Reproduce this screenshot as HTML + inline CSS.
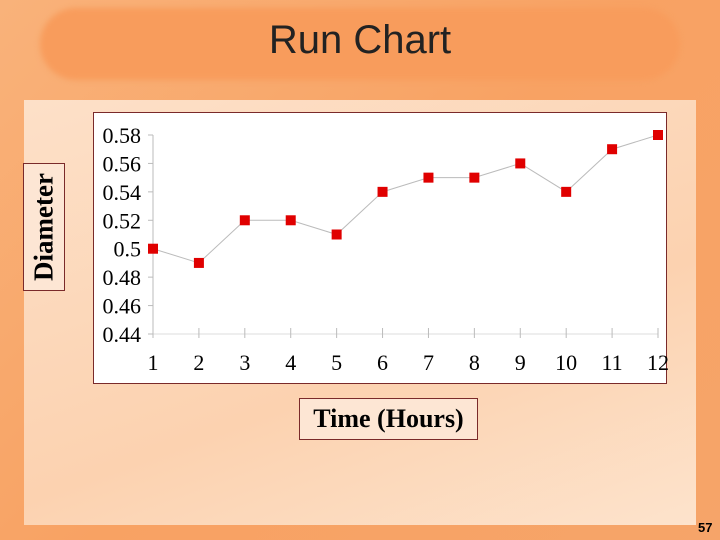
<!DOCTYPE html>
<html><head><style>
body{margin:0;width:720px;height:540px;overflow:hidden;font-family:"Liberation Serif",serif}
#bg{position:absolute;left:0;top:0;width:720px;height:540px;background:linear-gradient(135deg,#f9b27a,#f8a263 50%,#f6a469)}
#panel{position:absolute;left:24px;top:100px;width:672px;height:425px;background:linear-gradient(160deg,#fde0c8,#fcd2b0 60%,#fde3cc)}
#banner{position:absolute;left:40px;top:8px;width:640px;height:72px;border-radius:36px;background:#f89c5c;filter:blur(3px)}
#title{position:absolute;left:0;width:720px;top:18px;text-align:center;font:40px "Liberation Sans",sans-serif;color:#222}
#plot{position:absolute;left:93px;top:112px;width:572px;height:270px;background:#fff;border:1px solid #7a2a2a}
#ylab{position:absolute;left:23px;top:163px;width:40px;height:126px;border:1px solid #7a2a2a;background:#fde6d4}
#ylab span{position:absolute;left:50%;top:50%;transform:translate(-50%,-50%) rotate(-90deg);font-weight:bold;font-size:27px;white-space:nowrap}
#xlab{position:absolute;left:299px;top:398px;width:177px;height:40px;border:1px solid #7a2a2a;background:#fde6d4;text-align:center;line-height:40px;font-weight:bold;font-size:26px}
#pg{position:absolute;left:698px;top:520px;font:bold 13px "Liberation Sans",sans-serif}
svg{position:absolute;left:0;top:0}
</style></head><body>
<div id="bg"></div>
<div id="panel"></div>
<div id="banner"></div>
<div id="title">Run Chart</div>
<div id="plot"></div>
<div id="ylab"><span>Diameter</span></div>
<div id="xlab">Time (Hours)</div>
<div id="pg">57</div>
<svg id="chart" width="720" height="540"></svg>
<script>
const categories=[1,2,3,4,5,6,7,8,9,10,11,12];
const values=[0.50,0.49,0.52,0.52,0.51,0.54,0.55,0.55,0.56,0.54,0.57,0.58];
const yTicks=[0.44,0.46,0.48,0.5,0.52,0.54,0.56,0.58];
const yTickLabels=["0.44","0.46","0.48","0.5","0.52","0.54","0.56","0.58"];
const NS="http://www.w3.org/2000/svg",svg=document.getElementById('chart');
const x=i=>153+(i-1)*(658-153)/11;
const y=v=>334-(v-0.44)*(334-135)/0.14;
function mk(t,a){const e=document.createElementNS(NS,t);for(const k in a)e.setAttribute(k,a[k]);svg.appendChild(e);return e;}
let ax=mk('line',{x1:153,y1:y(0.58),x2:153,y2:334,stroke:'#bbb'});

let bx=mk('line',{x1:153,y1:334,x2:658,y2:334,stroke:'#ddd'});

yTicks.forEach((v,i)=>{
  mk('line',{x1:148,x2:153,y1:y(v),y2:y(v),stroke:'#bbb'});
  const t=mk('text',{x:141,y:y(v)+8,'text-anchor':'end','font-size':22,'font-family':'Liberation Serif, serif'});
  t.textContent=yTickLabels[i];
  
  
});
categories.forEach(c=>{
  mk('line',{x1:x(c),x2:x(c),y1:328,y2:338,stroke:'#bbb'});
  const t=mk('text',{x:x(c),y:370,'text-anchor':'middle','font-size':22,'font-family':'Liberation Serif, serif'});
  t.textContent=c;
  
  
});
const ln=mk('polyline',{points:categories.map((c,i)=>x(c)+','+y(values[i])).join(' '),fill:'none',stroke:'#bbb','stroke-width':1});

categories.forEach((c,i)=>{
  const r=mk('rect',{x:x(c)-5,y:y(values[i])-5,width:10,height:10,fill:'#e00000'});
  
  
});
</script>
</body></html>
